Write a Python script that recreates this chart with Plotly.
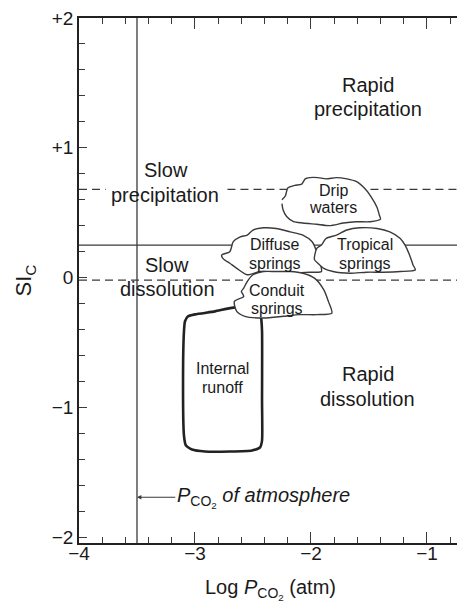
import plotly.graph_objects as go

# ---------------- data ----------------
x_range = [-4.0, -0.672]          # Log PCO2 (atm)
y_range = [-2.046, 2.0]           # SI_C

x_tick_vals = [-4, -3, -2, -1]
x_tick_text = ["−4", "−3", "−2", "−1"]
y_tick_vals = [2, 1, 0, -1, -2]
y_tick_text = ["+2", "+1", "0", "−1", "−2"]

atm_log_pco2 = -3.5               # PCO2 of atmosphere
si_upper_dashed = 0.68
si_solid = 0.25
si_lower_dashed = -0.02
text_gap = [-3.77, -2.72]         # gap of the upper dashed line under "precipitation"

runoff_x = [-3.095, -3.086, -3.060, -3.0, -2.828, -2.655, -2.457, -2.431, -2.422, -2.422,
            -2.422, -2.440, -2.509, -2.698, -2.914, -3.026, -3.078, -3.095, -3.103, -3.095]
runoff_y = [-0.414, -0.337, -0.299, -0.284, -0.261, -0.230, -0.253, -0.307, -0.414, -0.950,
            -1.257, -1.310, -1.333, -1.341, -1.341, -1.326, -1.295, -1.218, -0.797, -0.414]

diffuse_x = [-2.77, -2.70, -2.67, -2.61, -2.55, -2.50, -2.41, -2.30, -2.18, -2.07, -1.99,
             -1.95, -1.92, -1.91, -2.01, -2.15, -2.30, -2.44, -2.55, -2.64, -2.70, -2.76, -2.77]
diffuse_y = [0.174, 0.199, 0.276, 0.314, 0.327, 0.366, 0.383, 0.378, 0.352, 0.327, 0.276,
             0.199, 0.110, 0.046, 0.041, 0.033, 0.041, 0.046, 0.021, 0.071, 0.110, 0.148, 0.174]

tropical_x = [-1.97, -1.95, -1.91, -1.87, -1.78, -1.69, -1.58, -1.43, -1.32, -1.23, -1.19,
              -1.15, -1.12, -1.10, -1.23, -1.38, -1.52, -1.66, -1.81, -1.89, -1.94, -1.97]
tropical_y = [0.138, 0.225, 0.251, 0.301, 0.327, 0.366, 0.383, 0.378, 0.352, 0.301, 0.251,
              0.174, 0.097, 0.059, 0.046, 0.041, 0.041, 0.033, 0.046, 0.071, 0.110, 0.138]

conduit_x = [-2.60, -2.58, -2.66, -2.64, -2.57, -2.41, -2.24, -2.10, -1.95, -1.82, -1.85,
             -1.89, -1.97, -2.07, -2.18, -2.30, -2.41, -2.50, -2.55, -2.58, -2.60]
conduit_y = [-0.107, -0.146, -0.184, -0.261, -0.299, -0.312, -0.299, -0.286, -0.286, -0.274,
             -0.184, -0.094, -0.005, 0.033, 0.046, 0.046, 0.046, 0.021, -0.031, -0.082, -0.107]

drip_x = [-2.25, -2.22, -2.20, -2.14, -2.08, -2.05, -2.01, -1.94, -1.87, -1.78, -1.69, -1.61,
          -1.53, -1.48, -1.43, -1.41, -1.40, -1.49, -1.61, -1.72, -1.84, -1.95, -2.07, -2.15,
          -2.21, -2.24, -2.25]
drip_y = [0.60, 0.63, 0.69, 0.71, 0.72, 0.76, 0.77, 0.77, 0.76, 0.77, 0.76, 0.74, 0.68, 0.62,
          0.54, 0.48, 0.45, 0.43, 0.43, 0.42, 0.40, 0.41, 0.42, 0.43, 0.47, 0.52, 0.57]

region_text = ["Rapid", "precipitation", "Slow", "precipitation",
               "Slow", "dissolution", "Rapid", "dissolution"]
region_x = [-1.51, -1.51, -3.25, -3.26, -3.24, -3.24, -1.51, -1.51]
region_y = [1.487, 1.295, 0.828, 0.636, 0.100, -0.092, -0.743, -0.935]

blob_text = ["Drip", "waters", "Diffuse", "springs", "Tropical", "springs",
             "Conduit", "springs", "Internal", "runoff"]
blob_tx = [-1.81, -1.81, -2.31, -2.31, -1.53, -1.53, -2.29, -2.29, -2.76, -2.76]
blob_ty = [0.674, 0.536, 0.253, 0.107, 0.253, 0.107, -0.10, -0.24, -0.705, -0.851]

arrow_tail_x = -3.17
arrow_y = -1.693

# ---------------- figure ----------------
FONT = "Liberation Sans, Arial, sans-serif"
INK = "#1a1a1a"
LINE = "#3a3a3a"

fig = go.Figure()

# reference lines
fig.add_trace(go.Scatter(x=[x_range[0], text_gap[0], None, text_gap[1], x_range[1]],
                         y=[si_upper_dashed] * 2 + [None] + [si_upper_dashed] * 2,
                         mode="lines", line=dict(color=LINE, width=1.3, dash="8px,5px"),
                         hoverinfo="skip", showlegend=False))
fig.add_trace(go.Scatter(x=x_range, y=[si_solid] * 2, mode="lines",
                         line=dict(color=LINE, width=1.3), hoverinfo="skip", showlegend=False))
fig.add_trace(go.Scatter(x=x_range, y=[si_lower_dashed] * 2, mode="lines",
                         line=dict(color=LINE, width=1.3, dash="8px,5px"),
                         hoverinfo="skip", showlegend=False))
fig.add_trace(go.Scatter(x=[atm_log_pco2] * 2, y=y_range, mode="lines",
                         line=dict(color=LINE, width=1.3), hoverinfo="skip", showlegend=False))

# blobs
def blob(xs, ys, width=1.4, color=LINE, smoothing=0.7):
    fig.add_trace(go.Scatter(x=xs, y=ys, mode="lines", fill="toself", fillcolor="white",
                             line=dict(color=color, width=width, shape="spline",
                                       smoothing=smoothing),
                             hoverinfo="skip", showlegend=False))

blob(runoff_x, runoff_y, width=2.6, color="#222222", smoothing=0.5)
blob(diffuse_x, diffuse_y)
blob(tropical_x, tropical_y)
blob(conduit_x, conduit_y)
blob(drip_x, drip_y)

# right-hand tick stubs (axis cropped)
fig.add_trace(go.Scatter(x=[None], y=[None], yaxis="y2", showlegend=False))

annotations = []
for t, x, y in zip(region_text, region_x, region_y):
    annotations.append(dict(x=x, y=y, xref="x", yref="y", text=t, showarrow=False,
                            font=dict(family=FONT, size=20, color=INK),
                            xanchor="center", yanchor="middle"))
for t, x, y in zip(blob_text, blob_tx, blob_ty):
    annotations.append(dict(x=x, y=y, xref="x", yref="y", text=t, showarrow=False,
                            font=dict(family=FONT, size=16, color=INK),
                            xanchor="center", yanchor="middle"))

annotations.append(dict(x=atm_log_pco2, y=arrow_y, xref="x", yref="y",
                        ax=arrow_tail_x, ay=arrow_y, axref="x", ayref="y",
                        text="<i>P</i><sub>CO<sub>2</sub></sub><i> of atmosphere</i>",
                        showarrow=True, arrowhead=2, arrowsize=0.8, arrowwidth=1.1,
                        arrowcolor=LINE, xanchor="left", yanchor="middle",
                        font=dict(family=FONT, size=20, color=INK)))

# axis titles
annotations.append(dict(x=0.497, y=-0.089, xref="paper", yref="paper",
                        text="Log <i>P</i><sub>CO<sub>2</sub></sub> (atm)", showarrow=False,
                        font=dict(family=FONT, size=20, color=INK),
                        xanchor="center", yanchor="middle"))
annotations.append(dict(x=-0.14, y=0.5, xref="paper", yref="paper",
                        text="SI<sub>C</sub>", showarrow=False, textangle=-90,
                        font=dict(family=FONT, size=22, color=INK),
                        xanchor="center", yanchor="middle"))

# the page body keeps its default 8px margin, so the figure is 8px smaller
fig.update_layout(
    width=457, height=597,
    margin=dict(l=71, r=0, t=7, b=62),
    paper_bgcolor="white", plot_bgcolor="white",
    showlegend=False,
    annotations=annotations,
    xaxis=dict(range=x_range, tickvals=x_tick_vals, ticktext=x_tick_text,
               ticks="inside", ticklen=11, tickwidth=1.2, tickcolor=LINE,
               minor=dict(dtick=0.2, tick0=-4, ticks="inside", ticklen=6, tickwidth=1.1,
                          tickcolor=LINE, showgrid=False),
               showline=True, linecolor="#222222", linewidth=1.6, mirror="ticks",
               showgrid=False, zeroline=False, ticklabelstandoff=-8,
               ticklabeloverflow="allow",
               tickfont=dict(family=FONT, size=19, color=INK)),
    yaxis=dict(range=y_range, tickvals=y_tick_vals, ticktext=y_tick_text,
               ticks="inside", ticklen=8, tickwidth=1.2, tickcolor=LINE,
               minor=dict(dtick=0.2, tick0=2, ticks="inside", ticklen=6, tickwidth=1.1,
                          tickcolor=LINE, showgrid=False),
               showline=True, linecolor="#222222", linewidth=1.6, mirror=False,
               showgrid=False, zeroline=False, ticklabeloverflow="allow",
               tickfont=dict(family=FONT, size=19, color=INK)),
    yaxis2=dict(range=y_range, overlaying="y", side="right", showline=False,
                showticklabels=False, showgrid=False, zeroline=False,
                tickmode="linear", tick0=2, dtick=0.4, ticks="inside", ticklen=4,
                tickwidth=1.1, tickcolor=LINE),
)

fig.write_html("out.html")
